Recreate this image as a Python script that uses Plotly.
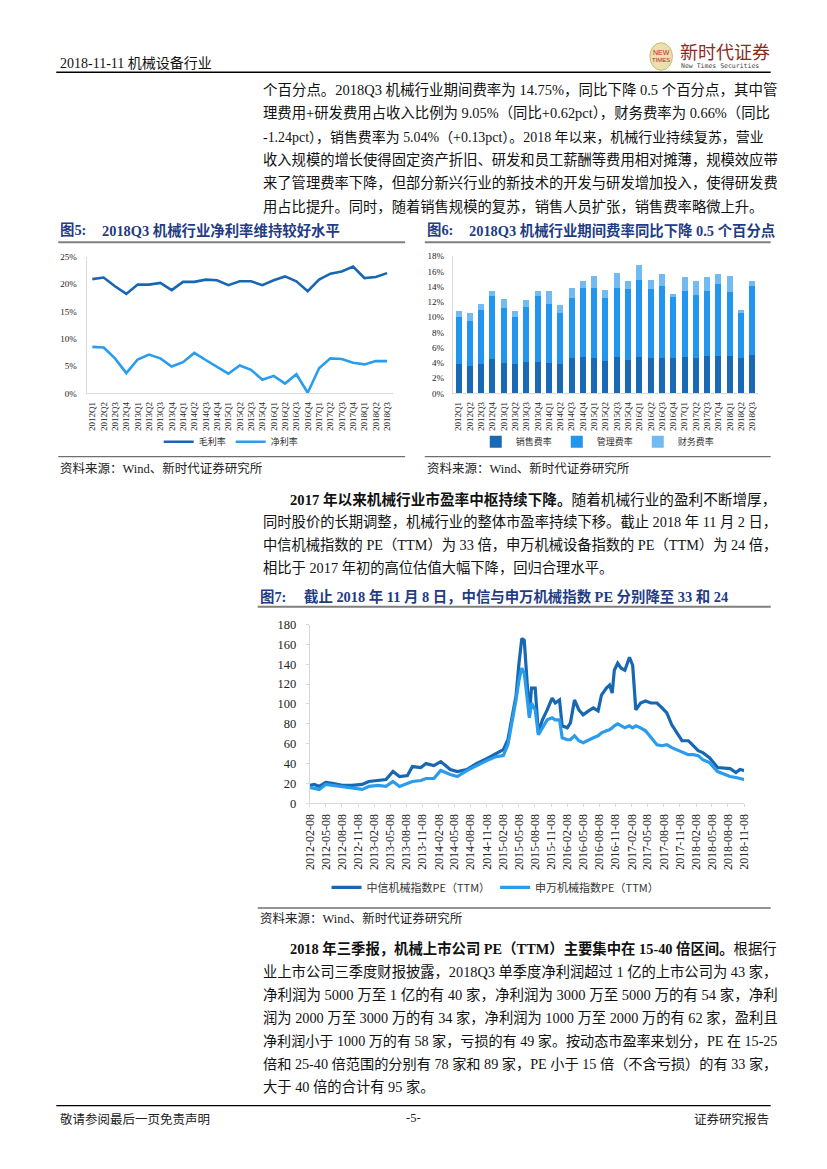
import plotly.graph_objects as go

PAGE_W, PAGE_H = 827, 1169
OFF = 8                      # default page margin around the figure
W, H = PAGE_W - 2 * OFF, PAGE_H - 2 * OFF


def X(px):
    return (px - OFF) / W


def Y(py):
    return 1 - (py - OFF) / H


SERIF = "Liberation Serif, Noto Sans CJK SC"
CJK = "Noto Sans CJK SC"
TITLE_BLUE = "#1F3C84"
DARK = "#1767B2"
LIGHT = "#2A9CEE"

# ---------------- data ----------------
quarters = ["2012Q1", "2012Q2", "2012Q3", "2012Q4", "2013Q1", "2013Q2", "2013Q3", "2013Q4",
            "2014Q1", "2014Q2", "2014Q3", "2014Q4", "2015Q1", "2015Q2", "2015Q3", "2015Q4",
            "2016Q1", "2016Q2", "2016Q3", "2016Q4", "2017Q1", "2017Q2", "2017Q3", "2017Q4",
            "2018Q1", "2018Q2", "2018Q3"]
gross_margin = [20.9, 21.2, 19.6, 18.2, 19.9, 19.9, 20.2, 18.9, 20.4, 20.4, 20.8, 20.7, 19.8,
                20.5, 20.5, 19.8, 20.7, 21.4, 20.5, 18.7, 20.8, 21.9, 22.3, 23.2, 21.1, 21.3, 22.0]
net_margin = [8.5, 8.4, 6.4, 3.7, 6.2, 7.1, 6.4, 4.9, 5.7, 7.4, 6.1, 4.9, 3.6, 5.1, 4.3, 2.5,
              3.2, 1.8, 3.5, 0.1, 4.6, 6.4, 6.3, 5.6, 5.3, 5.9, 5.9]

sales_rate = [3.8, 3.55, 3.9, 4.45, 4.0, 3.8, 4.15, 4.15, 4.0, 3.8, 4.6, 4.75, 4.7, 4.2, 4.75,
              4.35, 4.8, 4.7, 4.6, 4.6, 4.8, 4.7, 4.9, 4.9, 4.9, 4.6, 5.04]
mgmt_rate = [6.2, 5.95, 7.05, 8.35, 7.2, 6.2, 7.25, 8.65, 7.8, 6.7, 7.95, 9.15, 9.2, 8.35, 9.15,
             9.3, 10.1, 9.0, 9.5, 8.0, 8.7, 8.2, 8.5, 9.5, 8.4, 5.9, 9.05]
fin_rate = [0.8, 1.0, 0.85, 0.6, 1.2, 0.8, 0.9, 0.7, 1.6, 1.05, 1.25, 0.9, 1.55, 1.05, 1.9,
            1.15, 2.0, 1.2, 1.6, 0.5, 1.8, 1.8, 1.9, 1.25, 2.1, 0.4, 0.66]

pe_dates = ["2012-02-08", "2012-03-05", "2012-04-01", "2012-05-08", "2012-06-15", "2012-08-10",
            "2012-10-05", "2012-12-01", "2013-01-08", "2013-03-01", "2013-04-15", "2013-05-25",
            "2013-07-01", "2013-08-15", "2013-09-12", "2013-10-30", "2013-11-28", "2014-01-12",
            "2014-02-20", "2014-04-15", "2014-05-25", "2014-07-18", "2014-09-10", "2014-11-08",
            "2015-01-01", "2015-02-10", "2015-03-08", "2015-04-05", "2015-04-23", "2015-05-10",
            "2015-05-26", "2015-06-09", "2015-06-23", "2015-07-08", "2015-07-20", "2015-08-10",
            "2015-08-28", "2015-09-20", "2015-10-17", "2015-11-14", "2015-12-02", "2015-12-26",
            "2016-01-10", "2016-02-08", "2016-02-26", "2016-03-20", "2016-04-14", "2016-05-08",
            "2016-06-08", "2016-07-05", "2016-08-01", "2016-08-20", "2016-09-17", "2016-10-05",
            "2016-10-20", "2016-11-01", "2016-11-20", "2016-12-10", "2016-12-31", "2017-01-26",
            "2017-02-13", "2017-03-03", "2017-03-30", "2017-04-27", "2017-05-27", "2017-07-01",
            "2017-07-30", "2017-08-26", "2017-09-23", "2017-10-20", "2017-11-20", "2017-12-26",
            "2018-01-23", "2018-02-20", "2018-03-18", "2018-04-25", "2018-06-10", "2018-07-20",
            "2018-08-20", "2018-09-22", "2018-10-15", "2018-11-08"]
citic_pe = [18, 19, 17, 21, 20, 18, 18, 19, 22, 23, 24, 32, 27, 28, 37, 36, 40, 38, 42, 34, 32,
            34, 40, 45, 50, 54, 64, 91, 108, 141, 166, 164, 124, 88, 116, 116, 71, 84, 94, 106,
            101, 104, 78, 76, 81, 104, 94, 89, 93, 96, 93, 109, 116, 119, 111, 134, 141, 136,
            134, 147, 139, 94, 101, 103, 101, 101, 96, 91, 79, 71, 63, 63, 58, 53, 51, 46, 36,
            35, 35, 31, 34, 33]
sw_pe = [16, 15, 14, 19, 18, 17, 15, 14, 17, 18, 17, 22, 17, 20, 22, 23, 25, 25, 33, 29, 27,
         33, 38, 43, 47, 48, 59, 84, 104, 124, 136, 131, 111, 86, 101, 94, 69, 76, 84, 86, 84,
         84, 66, 64, 64, 68, 63, 61, 64, 66, 68, 71, 73, 74, 76, 78, 80, 78, 76, 78, 76, 78,
         76, 73, 66, 59, 58, 59, 56, 54, 51, 49, 49, 48, 44, 41, 32, 29, 27, 26, 25, 24]

date_ticks = ["2012-02-08", "2012-05-08", "2012-08-08", "2012-11-08",
              "2013-02-08", "2013-05-08", "2013-08-08", "2013-11-08",
              "2014-02-08", "2014-05-08", "2014-08-08", "2014-11-08",
              "2015-02-08", "2015-05-08", "2015-08-08", "2015-11-08",
              "2016-02-08", "2016-05-08", "2016-08-08", "2016-11-08",
              "2017-02-08", "2017-05-08", "2017-08-08", "2017-11-08",
              "2018-02-08", "2018-05-08", "2018-08-08", "2018-11-08"]

para1 = ["个百分点。2018Q3 机械行业期间费率为 14.75%，同比下降 0.5 个百分点，其中管",
         "理费用+研发费用占收入比例为 9.05%（同比+0.62pct），财务费率为 0.66%（同比",
         "-1.24pct），销售费率为 5.04%（+0.13pct）。2018 年以来，机械行业持续复苏，营业",
         "收入规模的增长使得固定资产折旧、研发和员工薪酬等费用相对摊薄，规模效应带",
         "来了管理费率下降，但部分新兴行业的新技术的开发与研发增加投入，使得研发费",
         "用占比提升。同时，随着销售规模的复苏，销售人员扩张，销售费率略微上升。"]
para2 = ["<b>2017 年以来机械行业市盈率中枢持续下降。</b>随着机械行业的盈利不断增厚，",
         "同时股价的长期调整，机械行业的整体市盈率持续下移。截止 2018 年 11 月 2 日，",
         "中信机械指数的 PE（TTM）为 33 倍，申万机械设备指数的 PE（TTM）为 24 倍，",
         "相比于 2017 年初的高位估值大幅下降，回归合理水平。"]
para3 = ["<b>2018 年三季报，机械上市公司 PE（TTM）主要集中在 15-40 倍区间。</b>根据行",
         "业上市公司三季度财报披露，2018Q3 单季度净利润超过 1 亿的上市公司为 43 家，",
         "净利润为 5000 万至 1 亿的有 40 家，净利润为 3000 万至 5000 万的有 54 家，净利",
         "润为 2000 万至 3000 万的有 34 家，净利润为 1000 万至 2000 万的有 62 家，盈利且",
         "净利润小于 1000 万的有 58 家，亏损的有 49 家。按动态市盈率来划分，PE 在 15-25",
         "倍和 25-40 倍范围的分别有 78 家和 89 家，PE 小于 15 倍（不含亏损）的有 33 家，",
         "大于 40 倍的合计有 95 家。"]

# ---------------- traces ----------------
fig = go.Figure()
fig.add_trace(go.Scatter(x=quarters, y=gross_margin, name="毛利率", mode="lines",
                         line=dict(color=DARK, width=2.6), xaxis="x", yaxis="y", legend="legend"))
fig.add_trace(go.Scatter(x=quarters, y=net_margin, name="净利率", mode="lines",
                         line=dict(color=LIGHT, width=2.6), xaxis="x", yaxis="y", legend="legend"))

fig.add_trace(go.Bar(x=quarters, y=sales_rate, name="销售费率", marker_color="#1A69B4",
                     marker_line_width=0, xaxis="x2", yaxis="y2", legend="legend2"))
fig.add_trace(go.Bar(x=quarters, y=mgmt_rate, name="管理费率", marker_color="#2295EE",
                     marker_line_width=0, xaxis="x2", yaxis="y2", legend="legend2"))
fig.add_trace(go.Bar(x=quarters, y=fin_rate, name="财务费率", marker_color="#72BBF2",
                     marker_line_width=0, xaxis="x2", yaxis="y2", legend="legend2"))

fig.add_trace(go.Scatter(x=pe_dates, y=citic_pe, name="中信机械指数PE（TTM）", mode="lines",
                         line=dict(color=DARK, width=3.2), xaxis="x3", yaxis="y3", legend="legend3"))
fig.add_trace(go.Scatter(x=pe_dates, y=sw_pe, name="申万机械指数PE（TTM）", mode="lines",
                         line=dict(color=LIGHT, width=3.2), xaxis="x3", yaxis="y3", legend="legend3"))

AXC = "#D9D9D9"
small_tick = dict(family=SERIF, size=9, color="#222")

fig.update_layout(
    width=W, height=H, autosize=False,
    margin=dict(l=0, r=0, t=0, b=0),
    paper_bgcolor="white", plot_bgcolor="white",
    barmode="stack", bargap=0.47,
    xaxis=dict(domain=[X(80.9), X(392.4)], anchor="y", type="category", range=[-0.5, 26.5],
               tickangle=-90, tickfont=small_tick, showline=True, linecolor=AXC, ticks="",
               showgrid=False, ticklabelstandoff=4, fixedrange=True),
    yaxis=dict(domain=[Y(391), Y(252.7)], anchor="x", range=[0, 25], dtick=5, ticksuffix="%",
               tickfont=small_tick, showline=True, linecolor=AXC, showgrid=False, zeroline=False,
               ticks="", ticklabelstandoff=7, fixedrange=True),
    xaxis2=dict(domain=[X(453.6), X(764.0)], anchor="y2", type="category", range=[-0.5, 26.5],
                tickangle=-90, tickfont=small_tick, showline=True, linecolor=AXC, ticks="",
                showgrid=False, ticklabelstandoff=4, fixedrange=True),
    yaxis2=dict(domain=[Y(391), Y(252.3)], anchor="x2", range=[0, 18], dtick=2, ticksuffix="%",
                tickfont=small_tick, showline=True, linecolor=AXC, showgrid=False, zeroline=False,
                ticks="", ticklabelstandoff=6, fixedrange=True),
    xaxis3=dict(domain=[X(308), X(750)], anchor="y3", type="date",
                range=["2012-02-08", "2018-11-08"], tickvals=date_ticks, ticktext=date_ticks,
                tickangle=-90, tickfont=dict(family=SERIF, size=12, color="#222"),
                showline=True, linecolor=AXC, ticks="outside", ticklen=3, tickcolor=AXC,
                showgrid=False, ticklabelstandoff=2, fixedrange=True),
    yaxis3=dict(domain=[Y(806), Y(625)], anchor="x3", range=[0, 180], dtick=20,
                tickfont=dict(family=SERIF, size=12.5, color="#222"), showline=True,
                linecolor=AXC, ticks="outside", ticklen=3, tickcolor=AXC, showgrid=False,
                zeroline=False, ticklabelstandoff=7, fixedrange=True),
    legend=dict(orientation="h", x=X(228), xanchor="center", y=Y(440), yanchor="middle",
                font=dict(family=CJK, size=9, color="#333"), itemwidth=30,
                bgcolor="rgba(0,0,0,0)", itemclick=False, itemdoubleclick=False),
    legend2=dict(orientation="h", x=X(601), xanchor="center", y=Y(440), yanchor="middle",
                 font=dict(family=CJK, size=9, color="#333"), itemwidth=30, traceorder="normal",
                 bgcolor="rgba(0,0,0,0)", itemclick=False, itemdoubleclick=False),
    legend3=dict(orientation="h", x=X(497), xanchor="center", y=Y(891), yanchor="middle",
                 font=dict(family=CJK, size=11, color="#333"), itemwidth=30,
                 bgcolor="rgba(0,0,0,0)", itemclick=False, itemdoubleclick=False),
)

# ---------------- text ----------------
ann = []

REG_W = {"%": 0.833, "+": 0.564, "-": 0.333, ".": 0.25, " ": 0.25, "p": 0.5, "c": 0.444,
         "t": 0.278, "Q": 0.722, "P": 0.556, "E": 0.611, "T": 0.611, "M": 0.889}
BOLD_W = {"-": 0.333, ".": 0.25, " ": 0.25, "P": 0.611, "E": 0.667, "T": 0.667, "M": 0.944,
          "Q": 0.778}


def em_width(s):
    """approximate width of a mixed CJK / Times line in em units"""
    total, bold, i = 0.0, False, 0
    while i < len(s):
        if s.startswith("<b>", i):
            bold, i = True, i + 3
            continue
        if s.startswith("</b>", i):
            bold, i = False, i + 4
            continue
        ch = s[i]
        if ord(ch) > 0x2E80:
            total += 1.0
        elif ch.isdigit():
            total += 0.5
        else:
            total += (BOLD_W if bold else REG_W).get(ch, 0.5)
        i += 1
    return total


def txt(s, x, y, size=14.3, color="#111", anchor="left", family=SERIF):
    ann.append(dict(text=s, x=X(x), y=Y(y), xref="paper", yref="paper", xanchor=anchor,
                    yanchor="middle", showarrow=False, align="left",
                    font=dict(family=family, size=size, color=color)))


def paragraph(lines, y0, step, indent_first=True):
    for i, line in enumerate(lines):
        x0 = 286 if (i == 0 and indent_first) else 258
        if i < len(lines) - 1:
            size = (775 - x0 - 2) / em_width(line)
            size = max(13.6, min(14.9, size))
        else:
            size = 14.3
        txt(line, x0, y0 + i * step, size=size)


# header
txt("2018-11-11 机械设备行业", 52, 57, size=14)
txt("NEW", 665.5, 46, size=7, color="#C0282D", anchor="center", family="Liberation Sans")
txt("TIMES", 665.5, 54, size=6, color="#C0282D", anchor="center", family="Liberation Sans")
txt("新时代证券", 683, 44, size=18, color="#8C2A22", family=CJK)
txt("New Times Securities", 684, 60, size=6.5, color="#444", family="DejaVu Sans Mono")

paragraph(para1, 84, 23.5, indent_first=False)

# figure titles
txt("<b>图5:</b>", 52, 226, size=14.4, color=TITLE_BLUE)
txt("<b>2018Q3 机械行业净利率维持较好水平</b>", 95, 226, size=14.4, color=TITLE_BLUE)
txt("<b>图6:</b>", 425, 226, size=14.4, color=TITLE_BLUE)
txt("<b>2018Q3 机械行业期间费率同比下降 0.5 个百分点</b>", 468, 226, size=14.4, color=TITLE_BLUE)
txt("<b>图7:</b>", 255, 597, size=14.4, color=TITLE_BLUE)
txt("<b>截止 2018 年 11 月 8 日，中信与申万机械指数 PE 分别降至 33 和 24</b>", 300, 597,
    size=14.4, color=TITLE_BLUE)

# sources
txt("资料来源：Wind、新时代证券研究所", 52, 467, size=12.5, color="#222")
txt("资料来源：Wind、新时代证券研究所", 425, 467, size=12.5, color="#222")
txt("资料来源：Wind、新时代证券研究所", 255, 923, size=12.5, color="#222")

paragraph(para2, 498, 23.4)
paragraph(para3, 953, 23.3)

# footer
txt("敬请参阅最后一页免责声明", 52, 1125, size=12.5, color="#222", family=CJK)
txt("-5-", 413, 1125, size=12.5, color="#222", anchor="center")
txt("证券研究报告", 777, 1125, size=12.5, color="#222", anchor="right", family=CJK)

fig.update_layout(annotations=ann)

# ---------------- rules / logo ----------------
shapes = []


def hline(x0, x1, y, color, width):
    shapes.append(dict(type="line", xref="paper", yref="paper", x0=X(x0), x1=X(x1),
                       y0=Y(y), y1=Y(y), line=dict(color=color, width=width)))


hline(50, 777, 66, "#000", 1.4)
hline(50, 777, 1112, "#000", 1.4)
hline(52, 405, 238, "#7F7F7F", 2)
hline(425, 777, 238, "#7F7F7F", 2)
hline(255, 777, 607, "#7F7F7F", 2)
hline(52, 405, 455, "#6F6F6F", 1.3)
hline(425, 777, 455, "#6F6F6F", 1.3)
hline(255, 777, 912, "#6F6F6F", 1.3)
shapes.append(dict(type="circle", xref="paper", yref="paper", x0=X(654), x1=X(677),
                   y0=Y(64), y1=Y(36), fillcolor="#EADFAE", line=dict(color="#CDB874", width=1),
                   layer="below"))
fig.update_layout(shapes=shapes)

fig.write_html("out.html", config={"displayModeBar": False})
